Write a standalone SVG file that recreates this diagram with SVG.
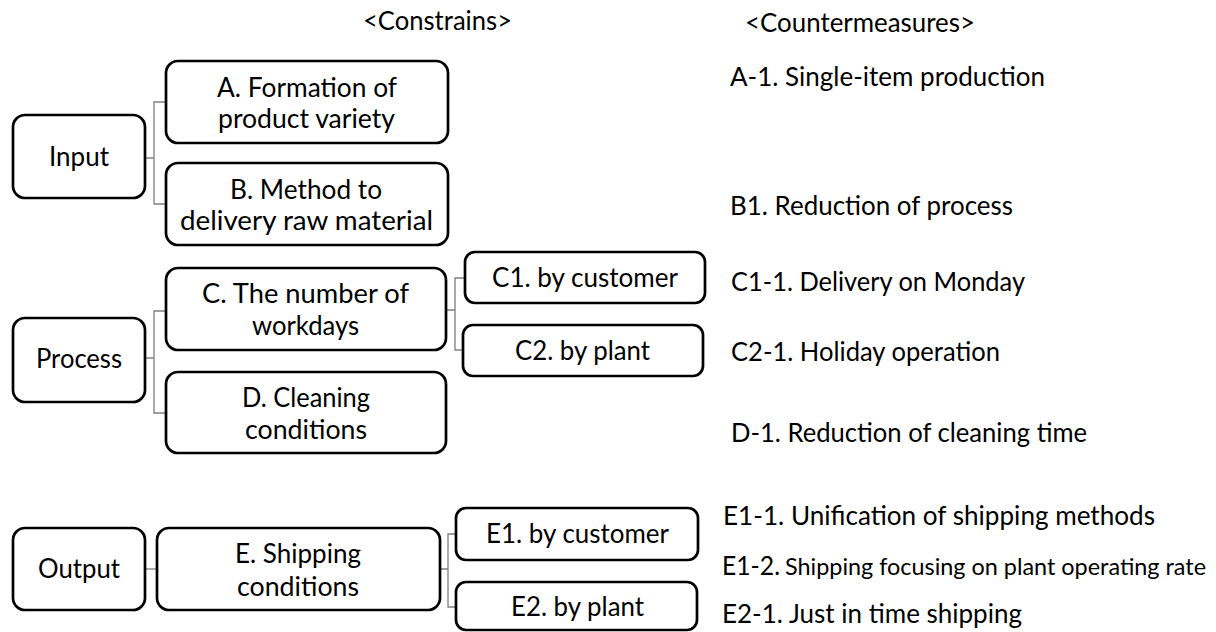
<svg xmlns="http://www.w3.org/2000/svg" width="1216" height="632" viewBox="0 0 1216 632">
<style>
.box{fill:#fff;stroke:#000;stroke-width:2.7}
.t{font-family:Lato,"Open Sans",sans-serif;font-size:27px;fill:#000}
.r{font-size:26.5px}
.s{font-size:23px}
.ln{fill:none;stroke:#7f7f7f;stroke-width:1.3}
</style>
<rect width="1216" height="632" fill="#fff"/>
<g id="headers">
<text class="t r" x="363" y="30" textLength="149" lengthAdjust="spacingAndGlyphs">&lt;Constrains&gt;</text>
<text class="t r" x="745" y="32" textLength="230" lengthAdjust="spacingAndGlyphs">&lt;Countermeasures&gt;</text>
</g>
<g id="connectors">
<path class="ln" d="M145,158 H154 M166,102 H154 V204 H166"/>
<path class="ln" d="M145,358 H154 M166,311 H154 V413 H166"/>
<path class="ln" d="M446,310 H455 M465,278 H455 V350 H463"/>
<path class="ln" d="M145,569 H157"/>
<path class="ln" d="M440,569 H448 M456,534 H448 V607 H456"/>
</g>
<g id="input"><rect class="box" x="13" y="115" width="132" height="83" rx="12"/><text class="t" x="49" y="166" textLength="60" lengthAdjust="spacingAndGlyphs">Input</text></g>
<g id="process"><rect class="box" x="13" y="318" width="132" height="84" rx="12"/><text class="t" x="36" y="368" textLength="86" lengthAdjust="spacingAndGlyphs">Process</text></g>
<g id="output"><rect class="box" x="13" y="528" width="132" height="82" rx="12"/><text class="t" x="38" y="578" textLength="82" lengthAdjust="spacingAndGlyphs">Output</text></g>
<g id="nodeA"><rect class="box" x="166" y="61" width="282" height="82" rx="12"/><text class="t" x="217" y="97" textLength="180" lengthAdjust="spacingAndGlyphs">A. Formation of</text><text class="t" x="218" y="128" textLength="177" lengthAdjust="spacingAndGlyphs">product variety</text></g>
<g id="nodeB"><rect class="box" x="166" y="163" width="282" height="82" rx="12"/><text class="t" x="230" y="199" textLength="152" lengthAdjust="spacingAndGlyphs">B. Method to</text><text class="t" x="180" y="230" textLength="253" lengthAdjust="spacingAndGlyphs">delivery raw material</text></g>
<g id="nodeC"><rect class="box" x="166" y="268" width="280" height="82" rx="12"/><text class="t" x="202" y="303" textLength="207" lengthAdjust="spacingAndGlyphs">C. The number of</text><text class="t" x="252" y="335" textLength="107" lengthAdjust="spacingAndGlyphs">workdays</text></g>
<g id="nodeD"><rect class="box" x="166" y="372" width="280" height="81" rx="12"/><text class="t" x="242" y="407" textLength="128" lengthAdjust="spacingAndGlyphs">D. Cleaning</text><text class="t" x="245" y="439" textLength="122" lengthAdjust="spacingAndGlyphs">conditions</text></g>
<g id="nodeE"><rect class="box" x="157" y="528" width="283" height="82" rx="12"/><text class="t" x="235" y="563" textLength="126" lengthAdjust="spacingAndGlyphs">E. Shipping</text><text class="t" x="237" y="596" textLength="122" lengthAdjust="spacingAndGlyphs">conditions</text></g>
<g id="nodeC1"><rect class="box" x="465" y="252" width="240" height="51" rx="10"/><text class="t" x="492" y="287" textLength="186" lengthAdjust="spacingAndGlyphs">C1. by customer</text></g>
<g id="nodeC2"><rect class="box" x="463" y="325" width="240" height="51" rx="10"/><text class="t" x="515" y="360" textLength="135" lengthAdjust="spacingAndGlyphs">C2. by plant</text></g>
<g id="nodeE1"><rect class="box" x="456" y="508" width="242" height="52" rx="10"/><text class="t" x="486" y="543" textLength="183" lengthAdjust="spacingAndGlyphs">E1. by customer</text></g>
<g id="nodeE2"><rect class="box" x="456" y="582" width="241" height="48" rx="10"/><text class="t" x="511" y="616" textLength="133" lengthAdjust="spacingAndGlyphs">E2. by plant</text></g>
<g id="countermeasures">
<text class="t r" x="730" y="86" textLength="315" lengthAdjust="spacingAndGlyphs">A-1. Single-item production</text>
<text class="t r" x="730" y="215" textLength="283" lengthAdjust="spacingAndGlyphs">B1. Reduction of process</text>
<text class="t r" x="731" y="291" textLength="294" lengthAdjust="spacingAndGlyphs">C1-1. Delivery on Monday</text>
<text class="t r" x="731" y="361" textLength="269" lengthAdjust="spacingAndGlyphs">C2-1. Holiday operation</text>
<text class="t r" x="731" y="442" textLength="356" lengthAdjust="spacingAndGlyphs">D-1. Reduction of cleaning time</text>
<text class="t r" x="723" y="525" textLength="432" lengthAdjust="spacingAndGlyphs">E1-1. Unification of shipping methods</text>
<text class="t r" x="722" y="575"><tspan textLength="58" lengthAdjust="spacingAndGlyphs">E1-2.</tspan><tspan class="s" dx="5" textLength="421" lengthAdjust="spacingAndGlyphs">Shipping focusing on plant operating rate</tspan></text>
<text class="t r" x="722" y="623" textLength="300" lengthAdjust="spacingAndGlyphs">E2-1. Just in time shipping</text>
</g>
</svg>
